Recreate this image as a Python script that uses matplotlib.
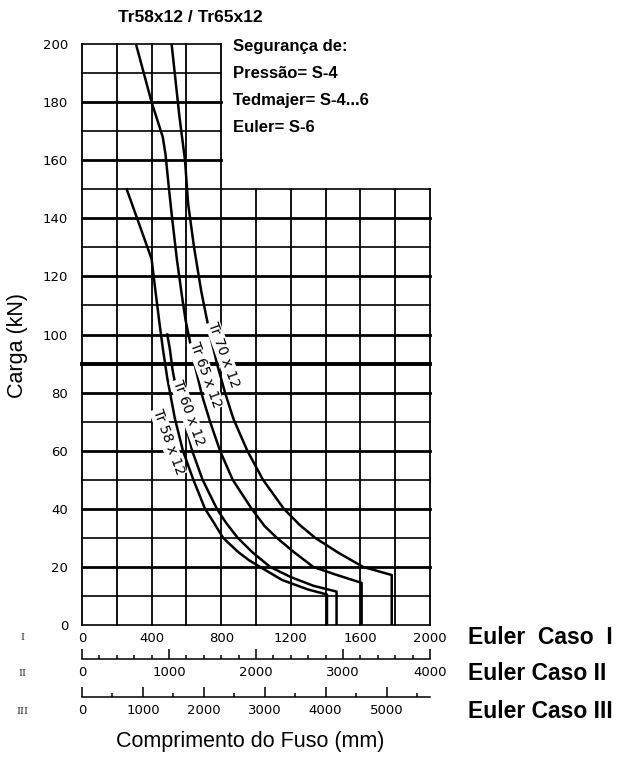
import matplotlib
matplotlib.use('Agg')
import matplotlib.pyplot as plt
from matplotlib.ticker import MultipleLocator

# y axis (load, kN) and the three length scales (mm)
y_ticks = [0, 20, 40, 60, 80, 100, 120, 140, 160, 180, 200]
x1_ticks = [0, 400, 800, 1200, 1600, 2000]
x2_ticks = [0, 1000, 2000, 3000, 4000]
x3_ticks = [0, 1000, 2000, 3000, 4000, 5000]
x3_max = 5714

# curves (x = length in Euler case I, y = load kN)
tr58_x = [257, 400, 420, 445, 465, 490, 534, 580, 640, 707, 760, 811, 855, 900, 960, 1023, 1150, 1300, 1408, 1408]
tr58_y = [150, 126, 116, 104, 95, 85, 71, 60, 50, 40, 35, 30, 27.5, 25, 22.3, 20, 15.5, 12.2, 10.5, 0]

tr60_x = [490, 505, 520, 545, 592, 633, 693, 775, 830, 895, 980, 1081, 1200, 1330, 1463, 1463]
tr60_y = [100, 95, 88, 80, 70, 60, 50, 40, 35, 30, 25, 20, 16.5, 13.5, 11.5, 0]

tr65_x = [310, 400, 464, 480, 500, 518, 545, 575, 595, 612, 650, 690, 736, 793, 866, 975, 1050, 1120, 1220, 1329, 1450, 1607, 1607]
tr65_y = [200, 180, 168, 162, 150, 140, 126, 113, 105, 100, 89, 79, 70, 60, 50, 40, 34, 30, 25, 20, 17.5, 14.5, 0]

tr70_x = [515, 560, 592, 610, 644, 685, 735, 780, 822, 870, 950, 1040, 1160, 1250, 1340, 1470, 1615, 1780, 1780]
tr70_y = [200, 175, 160, 145, 130, 115, 100, 89, 80, 71, 60, 50, 40, 34.5, 30, 25, 20, 17.2, 0]

curve_names = ['Tr 58 x 12', 'Tr 60 x 12', 'Tr 65 x 12', 'Tr 70 x 12']

W, H = 626, 767
fig = plt.figure(figsize=(W / 100, H / 100), dpi=100)

def fx(px):
    return px / W

def fy(py):
    return 1 - py / H

ax = fig.add_axes([fx(82), fy(625), (430 - 82) / W, (625 - 44) / H])
ax.set_xlim(0, 2000)
ax.set_ylim(0, 200)
for s in ax.spines.values():
    s.set_visible(False)

# grid: lower block 0-150 over full width, upper block 150-200 up to 800
def hw(v):
    if v == 90:
        return 2.8
    if v % 20 == 0 and 0 < v < 200:
        return 2.0
    return 1.2

for v in range(0, 151, 10):
    ax.plot([0, 2000], [v, v], color='black', lw=hw(v), clip_on=False, zorder=1)
for v in range(160, 201, 10):
    ax.plot([0, 800], [v, v], color='black', lw=hw(v), clip_on=False, zorder=1)
for v in range(0, 2001, 200):
    top = 200 if v <= 800 else 150
    ax.plot([v, v], [0, top], color='black', lw=1.3, clip_on=False, zorder=1)

# curves
for xs, ys in [(tr58_x, tr58_y), (tr60_x, tr60_y), (tr65_x, tr65_y), (tr70_x, tr70_y)]:
    ax.plot(xs, ys, color='black', lw=1.8, zorder=3, solid_joinstyle='round')

# curve labels
lab_pos = [(495, 63), (610, 73), (712, 86), (815, 93)]
for name, (lx, ly) in zip(curve_names, lab_pos):
    ax.text(lx, ly, name, rotation=-70, ha='center', va='center', fontsize=10,
            family='DejaVu Sans', zorder=4,
            bbox=dict(facecolor='white', edgecolor='none', pad=0.5))

ax.set_yticks(y_ticks)
ax.set_xticks(x1_ticks)
ax.tick_params(axis='both', length=0, labelsize=9.5)
ax.tick_params(axis='y', pad=10)
ax.tick_params(axis='x', pad=5)

# Euler case II and III scales
def scale_axis(py, xmax, ticks, minor):
    a = fig.add_axes([fx(82), fy(py), (430 - 82) / W, 0.0001])
    a.set_xlim(0, xmax)
    a.set_ylim(0, 1)
    for side in ['top', 'left', 'right']:
        a.spines[side].set_visible(False)
    a.spines['bottom'].set_linewidth(1.1)
    a.set_yticks([])
    a.set_xticks(ticks)
    a.xaxis.set_minor_locator(MultipleLocator(minor))
    a.tick_params(axis='x', which='major', direction='in', length=7, width=1.1, labelsize=9.5, pad=5)
    a.tick_params(axis='x', which='minor', direction='in', length=3, width=1.1)
    a.patch.set_visible(False)
    return a

scale_axis(659, 4000, x2_ticks, 200)
scale_axis(697, x3_max, x3_ticks, 500)

# row marks and case names
for txt, py in [('I', 638), ('II', 674), ('III', 712)]:
    fig.text(fx(22), fy(py), txt, fontsize=7, family='DejaVu Serif', color='#333333',
             ha='center', va='center')
for txt, py in [('Euler  Caso  I', 638), ('Euler Caso II', 674), ('Euler Caso III', 712)]:
    fig.text(fx(468), fy(py), txt, fontsize=16.5, fontweight='bold',
             family='Liberation Sans', ha='left', va='center')

fig.text(fx(190), fy(18), 'Tr58x12 / Tr65x12', fontsize=12.5, fontweight='bold',
         family='Liberation Sans', ha='center', va='center')
for i, txt in enumerate(['Segurança de:', 'Pressão= S-4', 'Tedmajer= S-4...6', 'Euler= S-6']):
    fig.text(fx(233), fy(47 + 27 * i), txt, fontsize=12, fontweight='bold',
             family='Liberation Sans', ha='left', va='center')

fig.text(fx(18), fy(345), 'Carga (kN)', rotation=90, fontsize=15.5,
         family='Liberation Sans', ha='center', va='center')
fig.text(fx(250), fy(741), 'Comprimento do Fuso (mm)', fontsize=15.5,
         family='Liberation Sans', ha='center', va='center')

fig.savefig('out.png', dpi=100, facecolor='white')
